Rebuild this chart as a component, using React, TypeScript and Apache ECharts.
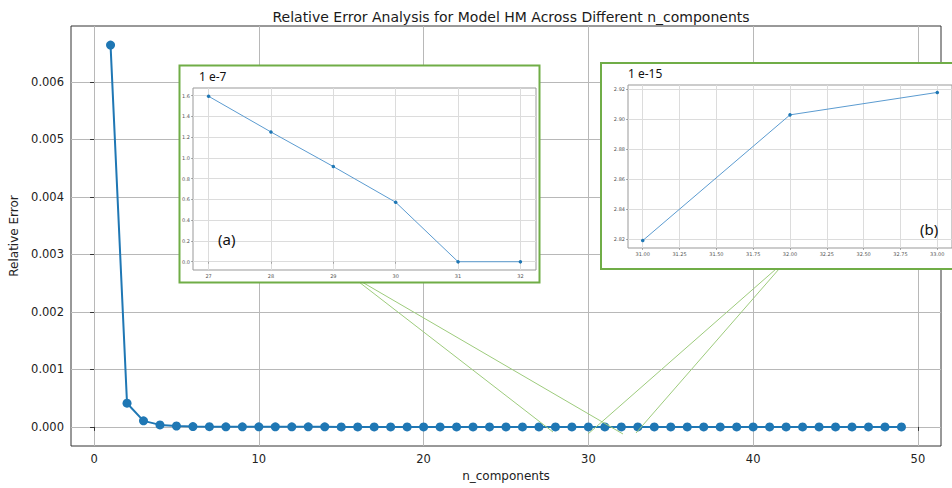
import React, { useEffect, useRef } from "react";
import * as echarts from "echarts";

// Number of components (x positions of the main curve)
const nComponents = [
  1, 2, 3, 4, 5, 6, 7, 8, 9, 10, 11, 12, 13, 14, 15, 16, 17, 18, 19, 20,
  21, 22, 23, 24, 25, 26, 27, 28, 29, 30, 31, 32, 33, 34, 35, 36, 37, 38, 39, 40,
  41, 42, 43, 44, 45, 46, 47, 48, 49,
];

// Relative reconstruction error for each n_components
const relativeError = [
  6.64e-3, 4.12e-4, 1.05e-4, 3.5e-5, 1.6e-5, 6.0e-6, 3.4e-6, 2.3e-6, 1.7e-6, 1.3e-6,
  1.05e-6, 8.8e-7, 7.4e-7, 6.3e-7, 5.5e-7, 4.8e-7, 4.2e-7, 3.7e-7, 3.3e-7, 2.95e-7,
  2.65e-7, 2.4e-7, 2.2e-7, 2.0e-7, 1.85e-7, 1.72e-7, 1.594e-7, 1.25e-7, 9.17e-8, 5.73e-8,
  2.819e-15, 2.903e-15, 2.918e-15, 2.93e-15, 2.95e-15, 2.94e-15, 2.97e-15, 2.96e-15, 2.99e-15, 3.01e-15,
  3.0e-15, 3.02e-15, 3.04e-15, 3.03e-15, 3.05e-15, 3.07e-15, 3.06e-15, 3.08e-15, 3.1e-15,
];

// Main axes ticks
const mainXTicks = [0, 10, 20, 30, 40, 50];
const mainYTicks = [0, 0.001, 0.002, 0.003, 0.004, 0.005, 0.006];

// Zoomed view (a): components 27..32, values in units of 1e-7
const insetAFrom = 27;
const insetATo = 32;
const insetAScale = 1e-7;
const insetAXTicks = [27, 28, 29, 30, 31, 32];
const insetAYTicks = [0, 0.2, 0.4, 0.6, 0.8, 1.0, 1.2, 1.4, 1.6];

// Zoomed view (b): components 31..33, values in units of 1e-15
const insetBFrom = 31;
const insetBTo = 33;
const insetBScale = 1e-15;
const insetBXTicks = [31, 31.25, 31.5, 31.75, 32, 32.25, 32.5, 32.75, 33];
const insetBYTicks = [2.82, 2.84, 2.86, 2.88, 2.9, 2.92];

const BLUE = "#1f77b4";
const GREEN = "#70ad47";
const LINK_GREEN = "#9dcb7c";
const FONT = "DejaVu Sans, sans-serif";
const NOTE_FONT = "Noto Sans, Open Sans, sans-serif";

// 5% padding on both sides of a data range
function padded(lo: number, hi: number): [number, number] {
  const m = (hi - lo) * 0.05;
  return [lo - m, hi + m];
}

function slicePairs(from: number, to: number, scale: number): number[][] {
  const out: number[][] = [];
  nComponents.forEach((n, i) => {
    if (n >= from && n <= to) out.push([n, relativeError[i] / scale]);
  });
  return out;
}

export default function App() {
  const ref = useRef<HTMLDivElement>(null);

  useEffect(() => {
    if (!ref.current) return;
    const chart = echarts.init(ref.current, null, { renderer: "svg" });

    const mainPairs = nComponents.map((n, i) => [n, relativeError[i]]);
    const [mxMin, mxMax] = padded(Math.min(...nComponents), Math.max(...nComponents));
    const [myMin, myMax] = padded(Math.min(...relativeError), Math.max(...relativeError));

    const aPairs = slicePairs(insetAFrom, insetATo, insetAScale);
    const [axMin, axMax] = padded(insetAFrom, insetATo);
    const aVals = aPairs.map((p) => p[1]);
    const [ayMin, ayMax] = padded(Math.min(...aVals), Math.max(...aVals));

    const bPairs = slicePairs(insetBFrom, insetBTo, insetBScale);
    const [bxMin, bxMax] = padded(insetBFrom, insetBTo);
    const bVals = bPairs.map((p) => p[1]);
    const [byMin, byMax] = padded(Math.min(...bVals), Math.max(...bVals));

    const insetAxisCommon = (ticks: number[], digits: number, z: number) => ({
      type: "value" as const,
      z,
      axisLine: { show: false },
      axisTick: { show: true, customValues: ticks, length: 2, lineStyle: { color: "#777", width: 0.6 } },
      axisLabel: {
        customValues: ticks,
        formatter: (v: number) => v.toFixed(digits),
        fontSize: 5,
        color: "#555",
        fontFamily: FONT,
        margin: 3,
      },
      splitLine: { show: true, lineStyle: { color: "#dcdcdc", width: 1 } },
    });

    chart.setOption({
      animation: false,
      backgroundColor: "#ffffff",
      title: {
        text: "Relative Error Analysis for Model HM Across Different n_components",
        left: 506,
        top: 5,
        textAlign: "center",
        textStyle: { fontFamily: FONT, fontSize: 14, fontWeight: "normal", color: "#1a1a1a" },
      },
      grid: [
        { left: 71, top: 26, width: 870, height: 420, show: true, borderColor: "#333", borderWidth: 1, backgroundColor: "transparent", z: 0 },
        { left: 193, top: 88, width: 343, height: 182, show: true, borderColor: "#999", borderWidth: 1, backgroundColor: "transparent", z: 6 },
        { left: 628, top: 85, width: 326, height: 163, show: true, borderColor: "#999", borderWidth: 1, backgroundColor: "transparent", z: 6 },
      ],
      xAxis: [
        {
          type: "value",
          gridIndex: 0,
          min: mxMin,
          max: mxMax,
          z: 0,
          name: "n_components",
          nameLocation: "middle",
          nameGap: 23,
          nameTextStyle: { fontFamily: FONT, fontSize: 12, color: "#222" },
          axisLine: { show: false },
          axisTick: { show: true, customValues: mainXTicks, length: 4, lineStyle: { color: "#333" } },
          axisLabel: { customValues: mainXTicks, fontFamily: FONT, fontSize: 11.5, color: "#222", margin: 7 },
          splitLine: { show: true, lineStyle: { color: "#b8b8b8", width: 1 } },
        },
        { ...insetAxisCommon(insetAXTicks, 0, 6), gridIndex: 1, min: axMin, max: axMax },
        { ...insetAxisCommon(insetBXTicks, 2, 6), gridIndex: 2, min: bxMin, max: bxMax },
      ],
      yAxis: [
        {
          type: "value",
          gridIndex: 0,
          min: myMin,
          max: myMax,
          z: 0,
          name: "Relative Error",
          nameLocation: "middle",
          nameGap: 47,
          nameTextStyle: { fontFamily: FONT, fontSize: 12, color: "#222" },
          axisLine: { show: false },
          axisTick: { show: true, customValues: mainYTicks, length: 4, lineStyle: { color: "#333" } },
          axisLabel: {
            customValues: mainYTicks,
            formatter: (v: number) => v.toFixed(3),
            fontFamily: FONT,
            fontSize: 11.5,
            color: "#222",
            margin: 7,
          },
          splitLine: { show: true, lineStyle: { color: "#b8b8b8", width: 1 } },
        },
        { ...insetAxisCommon(insetAYTicks, 1, 6), gridIndex: 1, min: ayMin, max: ayMax },
        { ...insetAxisCommon(insetBYTicks, 2, 6), gridIndex: 2, min: byMin, max: byMax },
      ],
      series: [
        {
          type: "line",
          xAxisIndex: 0,
          yAxisIndex: 0,
          data: mainPairs,
          z: 3,
          symbol: "circle",
          symbolSize: 9,
          itemStyle: { color: BLUE },
          lineStyle: { color: BLUE, width: 2 },
        },
        {
          type: "line",
          xAxisIndex: 1,
          yAxisIndex: 1,
          data: aPairs,
          z: 7,
          symbol: "circle",
          symbolSize: 3.5,
          itemStyle: { color: BLUE },
          lineStyle: { color: "#5b9bd0", width: 1 },
        },
        {
          type: "line",
          xAxisIndex: 2,
          yAxisIndex: 2,
          data: bPairs,
          z: 7,
          symbol: "circle",
          symbolSize: 3.5,
          itemStyle: { color: BLUE },
          lineStyle: { color: "#5b9bd0", width: 1 },
        },
      ],
      graphic: [
        // connector lines from the zoom boxes down to the curve
        { type: "line", z: 4, shape: { x1: 359, y1: 282, x2: 553, y2: 432 }, style: { stroke: LINK_GREEN, lineWidth: 1 } },
        { type: "line", z: 4, shape: { x1: 362, y1: 282, x2: 623, y2: 434 }, style: { stroke: LINK_GREEN, lineWidth: 1 } },
        { type: "line", z: 4, shape: { x1: 776, y1: 269, x2: 588, y2: 434 }, style: { stroke: LINK_GREEN, lineWidth: 1 } },
        { type: "line", z: 4, shape: { x1: 779, y1: 269, x2: 636, y2: 433 }, style: { stroke: LINK_GREEN, lineWidth: 1 } },
        // zoom boxes
        { type: "rect", z: 5, shape: { x: 179.5, y: 65.5, width: 360, height: 217 }, style: { fill: "#ffffff", stroke: GREEN, lineWidth: 2 } },
        { type: "rect", z: 5, shape: { x: 601, y: 63, width: 400, height: 206 }, style: { fill: "#ffffff", stroke: GREEN, lineWidth: 2 } },
        // scale notes and panel labels
        { type: "text", z: 8, x: 199, y: 70, style: { text: "1 e-7", fontSize: 12, fontFamily: NOTE_FONT, fill: "#111" } },
        { type: "text", z: 8, x: 218, y: 231, style: { text: "(a)", fontSize: 15, fontFamily: NOTE_FONT, fill: "#111" } },
        { type: "text", z: 8, x: 628, y: 67, style: { text: "1 e-15", fontSize: 12, fontFamily: NOTE_FONT, fill: "#111" } },
        { type: "text", z: 8, x: 920, y: 221, style: { text: "(b)", fontSize: 15, fontFamily: NOTE_FONT, fill: "#111" } },
      ],
    });

    return () => chart.dispose();
  }, []);

  return (
    <div
      ref={ref}
      style={{ position: "fixed", left: 0, top: 0, width: 952, height: 488, background: "#fff" }}
    />
  );
}
